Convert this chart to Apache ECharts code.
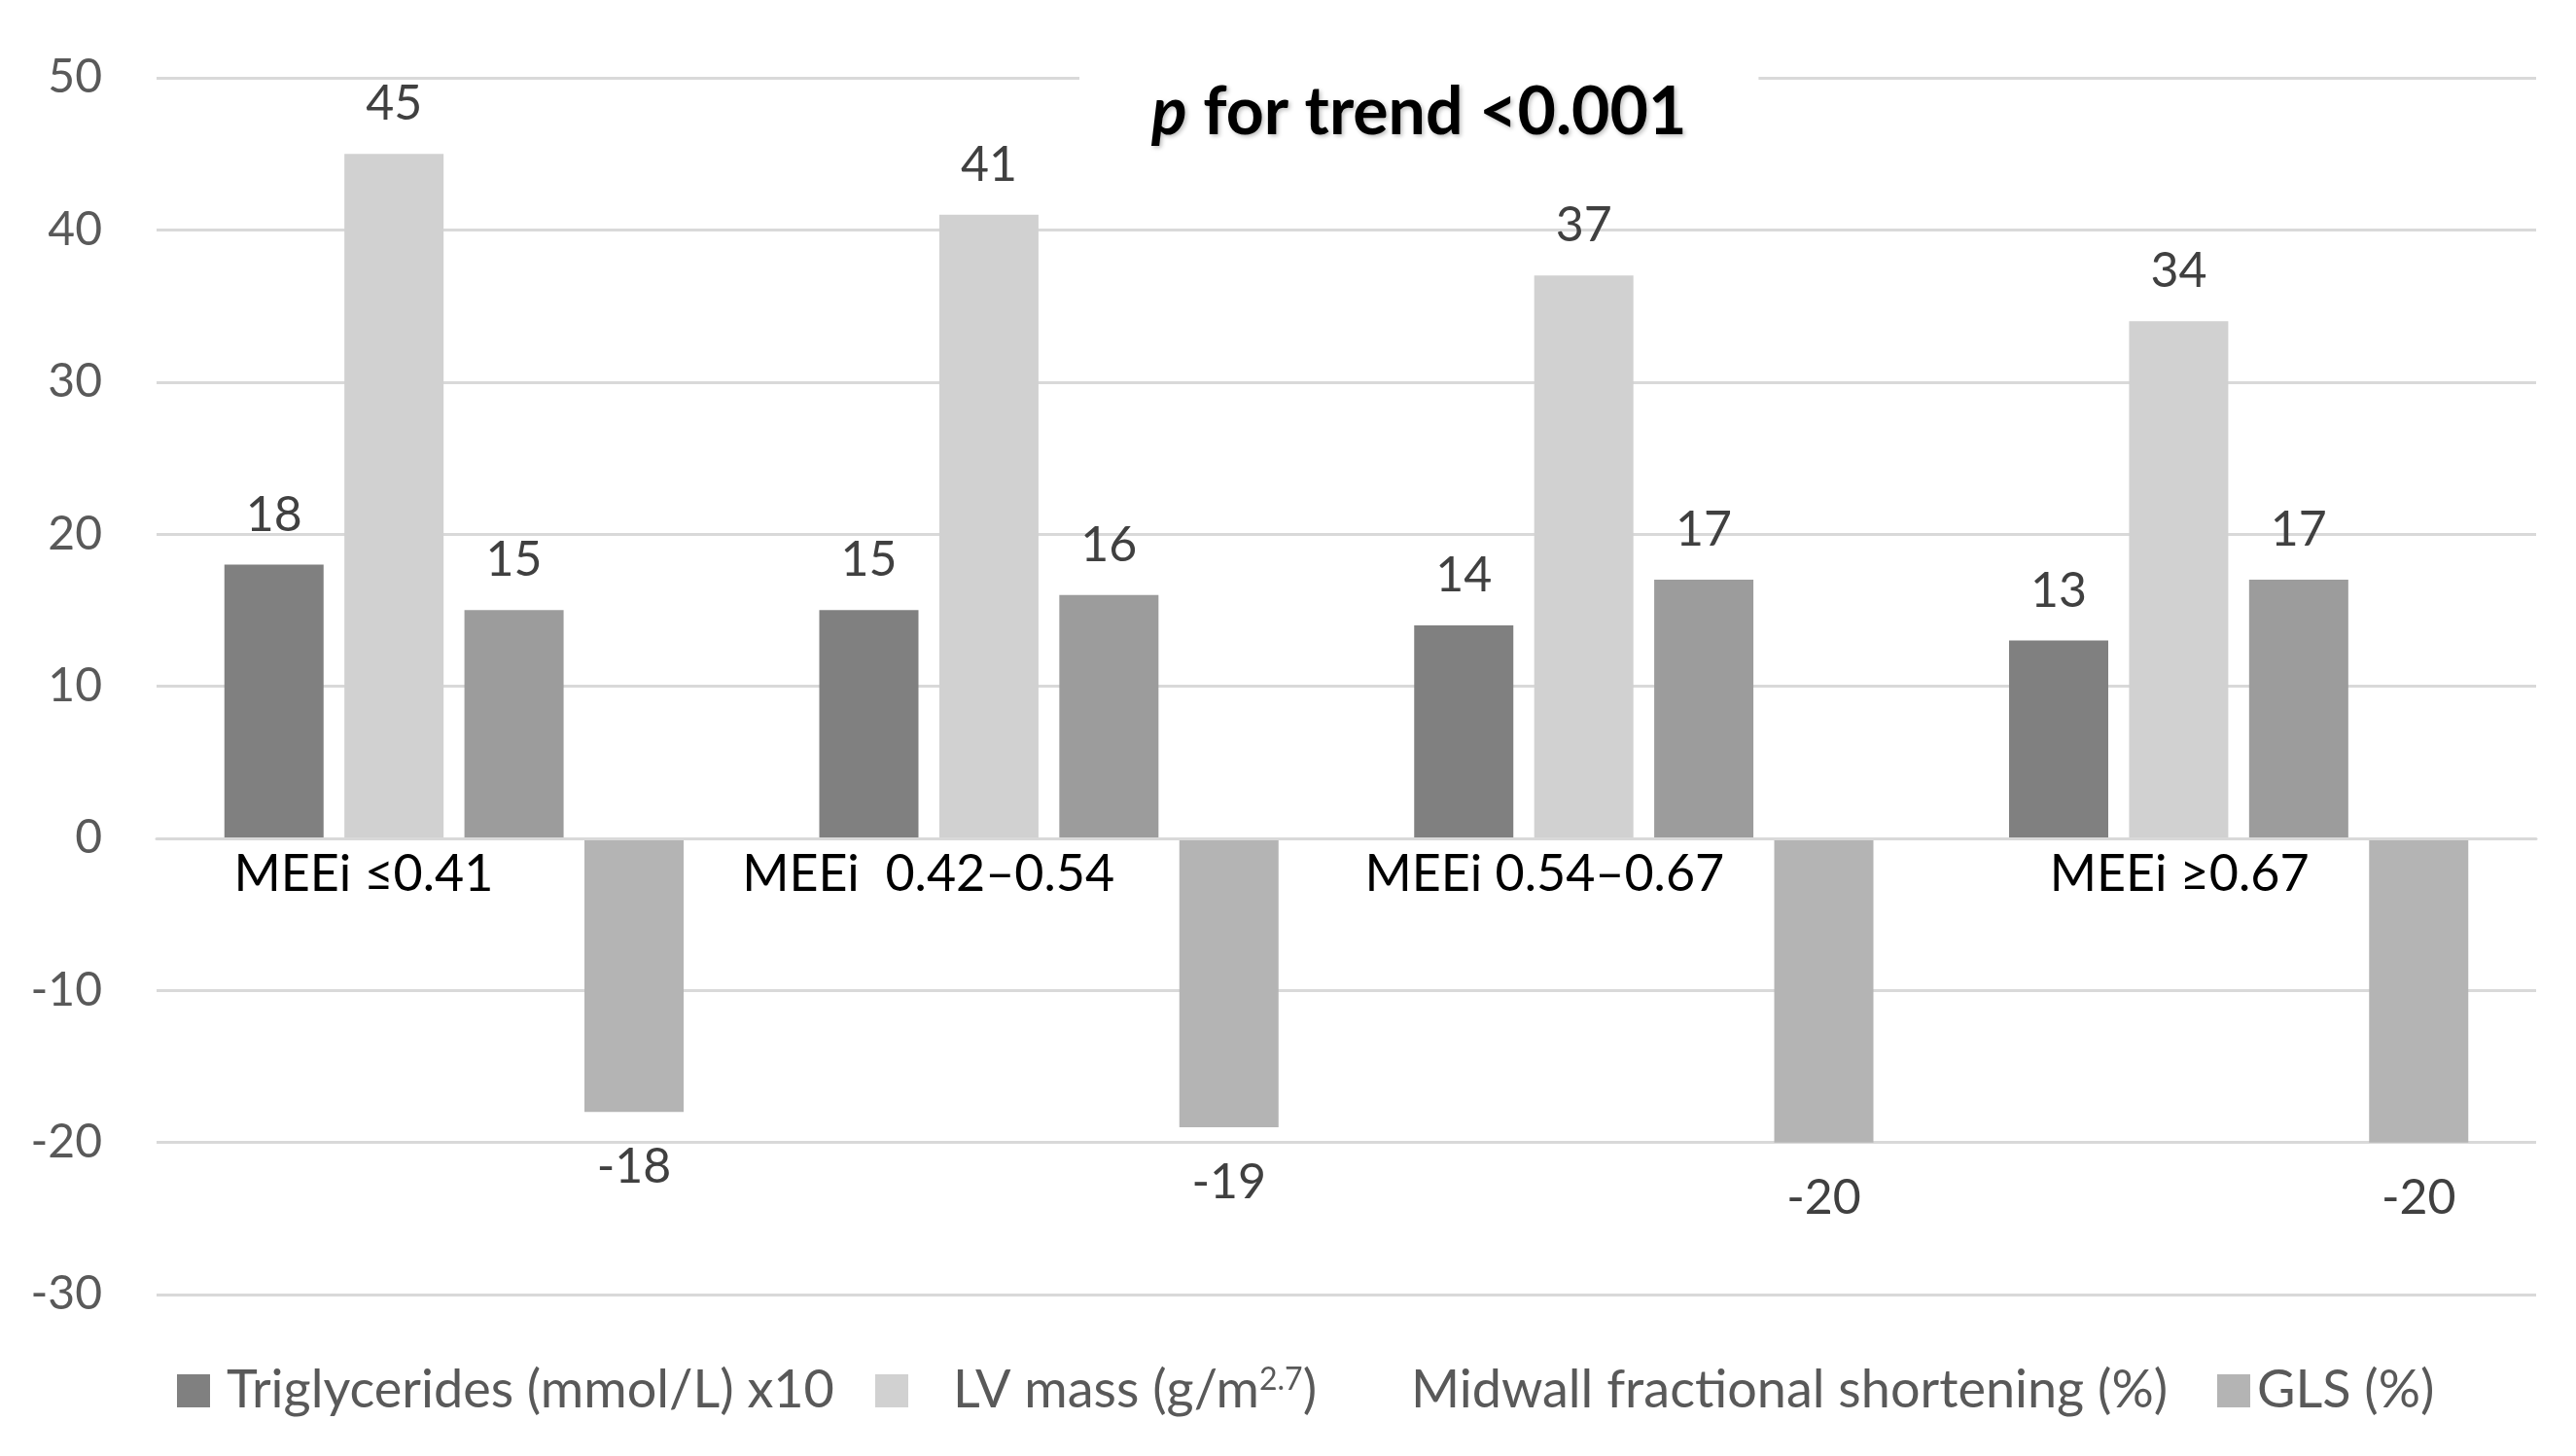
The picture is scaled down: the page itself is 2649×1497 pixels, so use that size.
<!DOCTYPE html>
<html>
<head>
<meta charset="utf-8">
<script src="https://cdn.jsdelivr.net/npm/echarts@6/dist/echarts.min.js"></script>
<style>html,body{margin:0;padding:0;background:#fff;}#c{width:2649px;height:1497px;}</style>
</head>
<body>
<div id="c"></div>
<script>
const categories = ['MEEi ≤0.41', 'MEEi  0.42–0.54', 'MEEi 0.54–0.67', 'MEEi ≥0.67'];
const seriesNames = ['Triglycerides (mmol/L) x10', 'LV mass (g/m2.7)', 'Midwall fractional shortening (%)', 'GLS (%)'];
const triglycerides = [18, 15, 14, 13];
const lvMass = [45, 41, 37, 34];
const midwallFS = [15, 16, 17, 17];
const gls = [-18, -19, -20, -20];
const yTicks = { min: -30, max: 50, interval: 10 };

const FONT = 'Lato, "Open Sans", sans-serif';
const colors = ['#808080', '#d1d1d1', '#9c9c9c', '#b4b4b4'];
const catShift = [186, 248, 204, 122];

const chart = echarts.init(document.getElementById('c'));

function barSeries(name, data, color, negative) {
  return {
    name: name, type: 'bar', data: data,
    barWidth: 102, barGap: '21%',
    itemStyle: { color: color },
    label: {
      show: true, position: negative ? 'bottom' : 'top', distance: negative ? 32 : 26,
      color: '#404040', fontSize: 50, fontFamily: FONT
    }
  };
}

function legendItem(left, name, iconColor, textPad) {
  return {
    left: left, top: 1403, padding: 0,
    itemWidth: 34, itemHeight: 34, icon: 'rect',
    data: [{ name: name, itemStyle: iconColor ? { color: iconColor } : { opacity: 0 } }],
    selectedMode: false,
    formatter: function (n) { return n === 'LV mass (g/m2.7)' ? 'LV mass (g/m{sup|2.7})' : n; },
    textStyle: {
      color: '#595959', fontSize: 54, fontFamily: FONT, padding: [0, 0, 0, textPad],
      rich: { sup: { fontSize: 32, fontFamily: FONT, color: '#595959', padding: [0, 0, 22, 0] } }
    }
  };
}

chart.setOption({
  backgroundColor: '#fff',
  animation: false,
  title: {
    text: '{i|p} for trend <0.001',
    left: 1110, top: 76,
    padding: [6, 74, 6, 74],
    backgroundColor: '#fff',
    textStyle: {
      fontSize: 68, fontWeight: 'bold', color: '#000', fontFamily: FONT,
      textShadowColor: 'rgba(0,0,0,0.25)', textShadowBlur: 4, textShadowOffsetX: 2, textShadowOffsetY: 2,
      rich: { i: { fontSize: 68, fontWeight: 'bold', fontStyle: 'italic', color: '#000', fontFamily: FONT,
        textShadowColor: 'rgba(0,0,0,0.25)', textShadowBlur: 4, textShadowOffsetX: 2, textShadowOffsetY: 2 } }
    },
    z: 10
  },
  legend: [
    legendItem(182, seriesNames[0], colors[0], 12),
    legendItem(900, seriesNames[1], colors[1], 41),
    legendItem(1400, seriesNames[2], null, 12),
    legendItem(2280, seriesNames[3], colors[3], 2)
  ],
  grid: { left: 161, right: 41, top: 80, bottom: 166, containLabel: false },
  xAxis: {
    type: 'category', data: categories,
    offset: -469,
    axisLine: { onZero: false, lineStyle: { color: '#d9d9d9', width: 3 } },
    axisTick: { show: false },
    axisLabel: {
      interval: 0, margin: 11, color: '#000', fontSize: 52, fontFamily: FONT,
      formatter: function (v, i) { return '{c' + i + '|' + v + '}'; },
      rich: {
        c0: { padding: [0, catShift[0], 0, 0], fontSize: 52, fontFamily: FONT, color: '#000' },
        c1: { padding: [0, catShift[1], 0, 0], fontSize: 52, fontFamily: FONT, color: '#000' },
        c2: { padding: [0, catShift[2], 0, 0], fontSize: 52, fontFamily: FONT, color: '#000' },
        c3: { padding: [0, catShift[3], 0, 0], fontSize: 52, fontFamily: FONT, color: '#000' }
      }
    },
    z: 5
  },
  yAxis: {
    type: 'value', min: yTicks.min, max: yTicks.max, interval: yTicks.interval,
    axisLine: { show: false }, axisTick: { show: false },
    axisLabel: { color: '#595959', fontSize: 48, fontFamily: FONT, margin: 56 },
    splitLine: { lineStyle: { color: '#d9d9d9', width: 3 } }
  },
  series: [
    barSeries(seriesNames[0], triglycerides, colors[0], false),
    barSeries(seriesNames[1], lvMass, colors[1], false),
    barSeries(seriesNames[2], midwallFS, colors[2], false),
    barSeries(seriesNames[3], gls, colors[3], true)
  ]
});
</script>
</body>
</html>
